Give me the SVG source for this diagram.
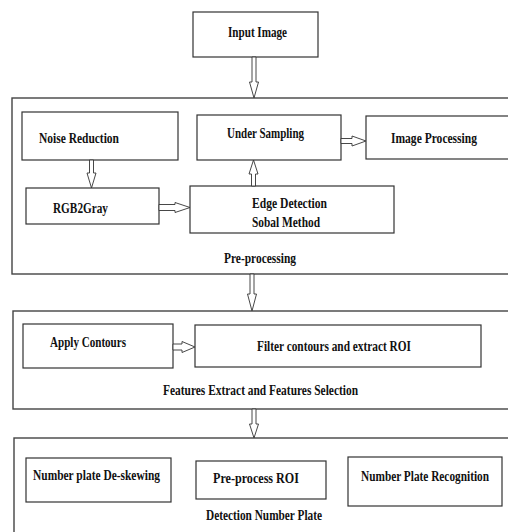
<svg xmlns="http://www.w3.org/2000/svg" width="508" height="532" viewBox="0 0 508 532">
<style>
.box{fill:#fff;stroke:#333;stroke-width:1.2}
.group{fill:none;stroke:#444;stroke-width:1.4}
.t{font-family:"Liberation Serif","Times New Roman",serif;font-weight:bold;font-size:14px;fill:#111}
.arr{fill:#fff;stroke:#333;stroke-width:0.9;stroke-linejoin:miter}
</style>
<rect width="508" height="532" fill="#fff"/>
<g id="preprocessing-group">
<rect class="group" x="12" y="98" width="520" height="176"/>
<text class="t" x="224" y="263" textLength="72" lengthAdjust="spacingAndGlyphs">Pre-processing</text>
</g>
<g id="features-group">
<rect class="group" x="13" y="311" width="520" height="98"/>
<text class="t" x="163" y="395" textLength="195" lengthAdjust="spacingAndGlyphs">Features Extract and Features Selection</text>
</g>
<g id="detection-group">
<rect class="group" x="14" y="438" width="520" height="120"/>
<text class="t" x="206" y="520" textLength="116" lengthAdjust="spacingAndGlyphs">Detection Number Plate</text>
</g>
<g id="input-image">
<rect class="box" x="193" y="12" width="125" height="45"/>
<text class="t" x="228" y="37" textLength="59" lengthAdjust="spacingAndGlyphs">Input Image</text>
</g>
<g id="noise-reduction">
<rect class="box" x="22" y="112" width="156" height="48"/>
<text class="t" x="39" y="143" textLength="80" lengthAdjust="spacingAndGlyphs">Noise Reduction</text>
</g>
<g id="under-sampling">
<rect class="box" x="197" y="115" width="144" height="45"/>
<text class="t" x="227" y="138" textLength="77" lengthAdjust="spacingAndGlyphs">Under Sampling</text>
</g>
<g id="image-processing">
<rect class="box" x="366" y="116" width="160" height="43"/>
<text class="t" x="391" y="143" textLength="86" lengthAdjust="spacingAndGlyphs">Image Processing</text>
</g>
<g id="rgb2gray">
<rect class="box" x="26" y="188" width="133" height="36"/>
<text class="t" x="53" y="213" textLength="55" lengthAdjust="spacingAndGlyphs">RGB2Gray</text>
</g>
<g id="edge-detection">
<rect class="box" x="190" y="186" width="204" height="47"/>
<text class="t" x="252" y="208" textLength="75" lengthAdjust="spacingAndGlyphs">Edge Detection</text>
<text class="t" x="252" y="227" textLength="68" lengthAdjust="spacingAndGlyphs">Sobal Method</text>
</g>
<g id="apply-contours">
<rect class="box" x="23" y="324" width="150" height="44"/>
<text class="t" x="50" y="347" textLength="76" lengthAdjust="spacingAndGlyphs">Apply Contours</text>
</g>
<g id="filter-contours">
<rect class="box" x="195" y="325" width="286" height="42"/>
<text class="t" x="257" y="351" textLength="154" lengthAdjust="spacingAndGlyphs">Filter contours and extract ROI</text>
</g>
<g id="deskewing">
<rect class="box" x="26" y="458" width="145" height="44"/>
<text class="t" x="33" y="480" textLength="127" lengthAdjust="spacingAndGlyphs">Number plate De-skewing</text>
</g>
<g id="preprocess-roi">
<rect class="box" x="196" y="461" width="130" height="38"/>
<text class="t" x="213" y="483" textLength="86" lengthAdjust="spacingAndGlyphs">Pre-process ROI</text>
</g>
<g id="recognition">
<rect class="box" x="348" y="457" width="154" height="49"/>
<text class="t" x="361" y="481" textLength="128" lengthAdjust="spacingAndGlyphs">Number Plate Recognition</text>
</g>
<g id="connectors">
<path class="arr" d="M252,57 L252,82 L249.5,82 L254,98 L258.5,82 L256,82 L256,57 Z"/>
<path class="arr" d="M89.5,160 L89.5,173 L87,173 L91.5,188 L96,173 L93.5,173 L93.5,160 Z"/>
<path class="arr" d="M251.5,186 L251.5,174 L249,174 L253.5,160 L258,174 L255.5,174 L255.5,186 Z"/>
<path class="arr" d="M341,138.5 L352,138.5 L352,136 L366,141 L352,146 L352,143.5 L341,143.5 Z"/>
<path class="arr" d="M159,204.5 L175,204.5 L175,202.5 L190,207.5 L175,212.5 L175,210.5 L159,210.5 Z"/>
<path class="arr" d="M250,274 L250,294 L247.5,294 L252,311 L256.5,294 L254,294 L254,274 Z"/>
<path class="arr" d="M173,344 L182,344 L182,341.5 L195,347 L182,352.5 L182,350 L173,350 Z"/>
<path class="arr" d="M252,409 L252,424 L249.5,424 L254,438 L258.5,424 L256,424 L256,409 Z"/>
</g>
</svg>
